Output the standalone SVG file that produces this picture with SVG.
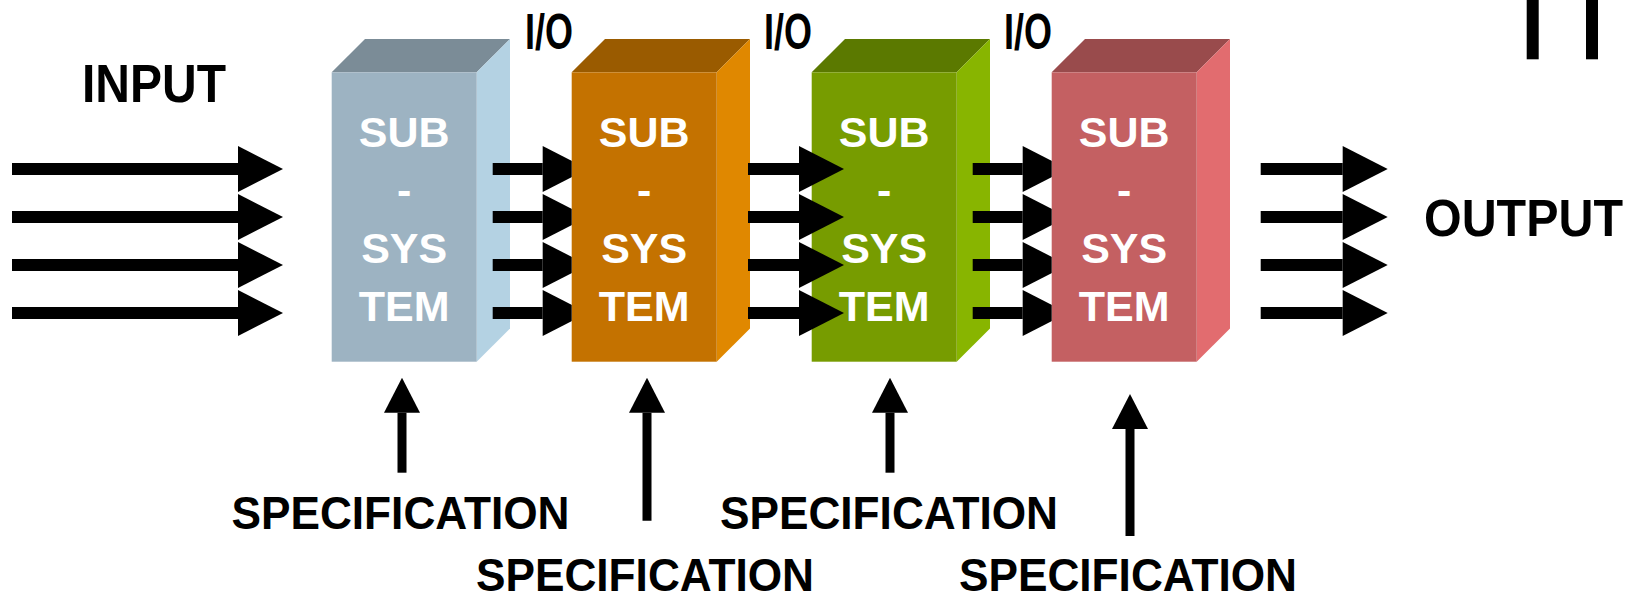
<svg xmlns="http://www.w3.org/2000/svg" width="1630" height="595" viewBox="0 0 1630 595">
  <style>
    .lbl { font-family: "Liberation Sans", Arial, sans-serif; font-weight: bold; fill: #000; }
    .btxt { font-family: "Liberation Sans", Arial, sans-serif; font-weight: bold; font-size: 43px; fill: #fff; text-anchor: middle; }
    .spec { font-size: 46px; text-anchor: middle; }
    .io { font-size: 50px; text-anchor: middle; }
    .harr { stroke: #000; stroke-width: 12; fill: none; marker-end: url(#hhead); }
    .varr { stroke: #000; stroke-width: 9; fill: none; marker-end: url(#vhead); }
  </style>
  <defs>
    <marker id="hhead" markerUnits="userSpaceOnUse" markerWidth="45" markerHeight="46" refX="0" refY="23" orient="auto" overflow="visible">
      <path d="M0,0 L45,23 L0,46 Z" fill="#000"/>
    </marker>
    <marker id="vhead" markerUnits="userSpaceOnUse" markerWidth="35" markerHeight="36" refX="0" refY="18" orient="auto" overflow="visible">
      <path d="M0,0 L35,18 L0,36 Z" fill="#000"/>
    </marker>
    <clipPath id="clip12"><rect x="400" y="100" width="171.7" height="260"/></clipPath>
    <clipPath id="clip34"><rect x="900" y="100" width="151.7" height="260"/></clipPath>
  </defs>
  <rect width="1630" height="595" fill="#fff"/>

  <!-- Nodes -->
  <g id="subsystem1">
    <polygon points="331.7,72.3 365,39 510,39 476.7,72.3" fill="#7b8c97"/>
    <polygon points="476.7,72.3 510,39 510,328.4 476.7,361.7" fill="#b4d2e3"/>
    <rect x="331.7" y="72.3" width="145" height="289.4" fill="#9db3c2"/>
    <text class="btxt" x="404.2" y="147">SUB</text>
    <text class="btxt" x="404.2" y="205">-</text>
    <text class="btxt" x="404.2" y="263">SYS</text>
    <text class="btxt" x="404.2" y="321">TEM</text>
  </g>
  <g id="subsystem2">
    <polygon points="571.7,72.3 605,39 750,39 716.7,72.3" fill="#9a5b00"/>
    <polygon points="716.7,72.3 750,39 750,328.4 716.7,361.7" fill="#e08800"/>
    <rect x="571.7" y="72.3" width="145" height="289.4" fill="#c47200"/>
    <text class="btxt" x="644.2" y="147">SUB</text>
    <text class="btxt" x="644.2" y="205">-</text>
    <text class="btxt" x="644.2" y="263">SYS</text>
    <text class="btxt" x="644.2" y="321">TEM</text>
  </g>
  <g id="subsystem3">
    <polygon points="811.7,72.3 845,39 990,39 956.7,72.3" fill="#5b7900"/>
    <polygon points="956.7,72.3 990,39 990,328.4 956.7,361.7" fill="#88b500"/>
    <rect x="811.7" y="72.3" width="145" height="289.4" fill="#779c00"/>
    <text class="btxt" x="884.2" y="147">SUB</text>
    <text class="btxt" x="884.2" y="205">-</text>
    <text class="btxt" x="884.2" y="263">SYS</text>
    <text class="btxt" x="884.2" y="321">TEM</text>
  </g>
  <g id="subsystem4">
    <polygon points="1051.7,72.3 1085,39 1230,39 1196.7,72.3" fill="#994b4c"/>
    <polygon points="1196.7,72.3 1230,39 1230,328.4 1196.7,361.7" fill="#e26c6f"/>
    <rect x="1051.7" y="72.3" width="145" height="289.4" fill="#c46062"/>
    <text class="btxt" x="1124.2" y="147">SUB</text>
    <text class="btxt" x="1124.2" y="205">-</text>
    <text class="btxt" x="1124.2" y="263">SYS</text>
    <text class="btxt" x="1124.2" y="321">TEM</text>
  </g>

  <g id="labels">
    <text class="lbl" x="82" y="101.7" font-size="54" textLength="144" lengthAdjust="spacingAndGlyphs">INPUT</text>
    <text class="lbl" x="1424" y="236" font-size="52" textLength="199" lengthAdjust="spacingAndGlyphs">OUTPUT</text>
    <text class="lbl io" x="549" y="49" textLength="48" lengthAdjust="spacingAndGlyphs">I/O</text>
    <text class="lbl io" x="788" y="49" textLength="48" lengthAdjust="spacingAndGlyphs">I/O</text>
    <text class="lbl io" x="1028" y="49" textLength="48" lengthAdjust="spacingAndGlyphs">I/O</text>
    <text class="lbl spec" x="400.5" y="529" textLength="338" lengthAdjust="spacingAndGlyphs">SPECIFICATION</text>
    <text class="lbl spec" x="645" y="591" textLength="338" lengthAdjust="spacingAndGlyphs">SPECIFICATION</text>
    <text class="lbl spec" x="889" y="529" textLength="338" lengthAdjust="spacingAndGlyphs">SPECIFICATION</text>
    <text class="lbl spec" x="1128" y="591" textLength="338" lengthAdjust="spacingAndGlyphs">SPECIFICATION</text>
  </g>

  <g id="bars">
    <rect x="1526.7" y="0" width="12" height="59.3" fill="#000"/>
    <rect x="1586" y="0" width="12" height="59.3" fill="#000"/>
  </g>

  <!-- Connectors -->
  <g id="connectors">
    <g id="input-arrows">
      <path class="harr" d="M12,169 H238"/>
      <path class="harr" d="M12,217 H238"/>
      <path class="harr" d="M12,265 H238"/>
      <path class="harr" d="M12,313 H238"/>
    </g>
    <g id="io-1-2" clip-path="url(#clip12)">
      <path class="harr" d="M492.7,169 H542.7"/>
      <path class="harr" d="M492.7,217 H542.7"/>
      <path class="harr" d="M492.7,265 H542.7"/>
      <path class="harr" d="M492.7,313 H542.7"/>
    </g>
    <g id="io-2-3">
      <path class="harr" d="M748,169 H799"/>
      <path class="harr" d="M748,217 H799"/>
      <path class="harr" d="M748,265 H799"/>
      <path class="harr" d="M748,313 H799"/>
    </g>
    <g id="io-3-4" clip-path="url(#clip34)">
      <path class="harr" d="M972.7,169 H1022.7"/>
      <path class="harr" d="M972.7,217 H1022.7"/>
      <path class="harr" d="M972.7,265 H1022.7"/>
      <path class="harr" d="M972.7,313 H1022.7"/>
    </g>
    <g id="output-arrows">
      <path class="harr" d="M1260.7,169 H1342.7"/>
      <path class="harr" d="M1260.7,217 H1342.7"/>
      <path class="harr" d="M1260.7,265 H1342.7"/>
      <path class="harr" d="M1260.7,313 H1342.7"/>
    </g>
    <g id="spec-arrows">
      <path class="varr" d="M402,472.7 V412.7"/>
      <path class="varr" d="M647,520.7 V412.7"/>
      <path class="varr" d="M890,472.7 V412.7"/>
      <path class="varr" d="M1130,536 V429"/>
    </g>
  </g>
</svg>
